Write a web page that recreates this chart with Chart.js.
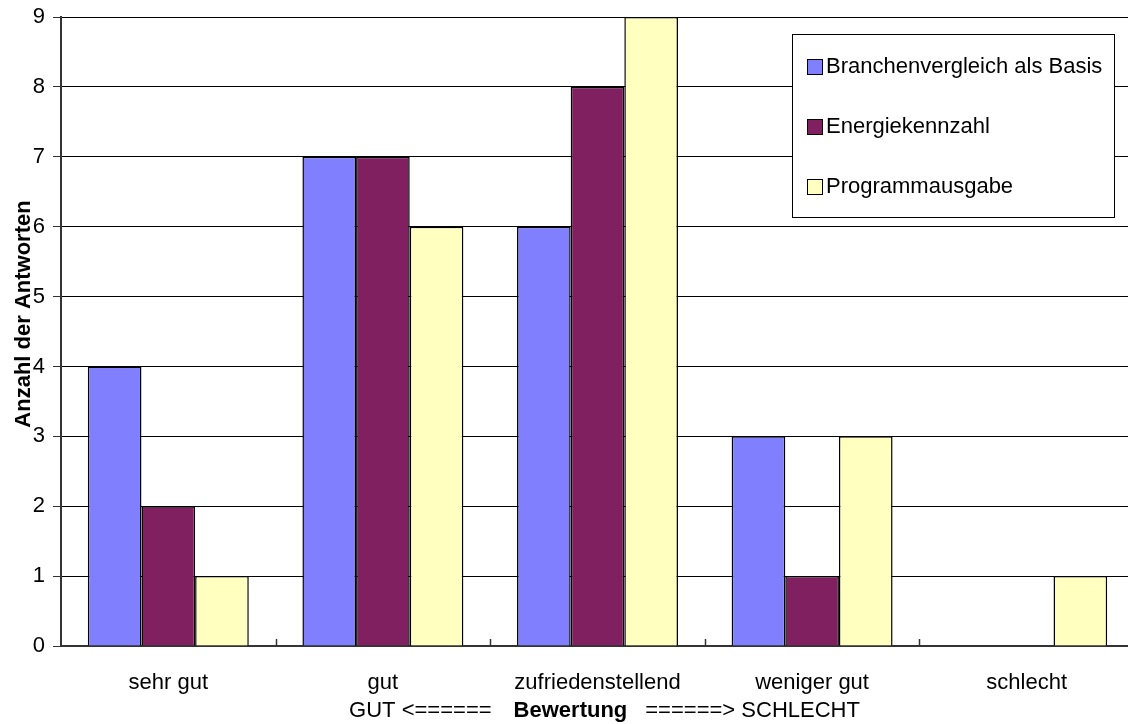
<!DOCTYPE html>
<html>
<head>
<meta charset="utf-8">
<script src="https://cdn.jsdelivr.net/npm/chart.js@4/dist/chart.umd.min.js"></script>
<style>
  html, body { margin: 0; padding: 0; background: #fff; overflow: hidden; width: 1128px; height: 724px; }
  canvas { display: block; }
</style>
</head>
<body>
<canvas id="bewertung" width="1134" height="724"></canvas>
<script>
const categories = ['sehr gut', 'gut', 'zufriedenstellend', 'weniger gut', 'schlecht'];
const seriesNames = ['Branchenvergleich als Basis', 'Energiekennzahl', 'Programmausgabe'];
const branchenvergleich = [4, 7, 6, 3, 0];
const energiekennzahl = [2, 7, 8, 1, 0];
const programmausgabe = [1, 6, 9, 3, 1];
const yMin = 0, yMax = 9, yStep = 1;
const yTitle = 'Anzahl der Antworten';
const axisTitleParts = ['GUT <======', 'Bewertung', '======> SCHLECHT'];

const colors = ['#8080ff', '#802060', '#ffffc0'];
const FONT = 'Arial, "Liberation Sans", sans-serif';

// short inward tick marks between categories on the x axis
const categoryTicks = {
  id: 'categoryTicks',
  afterDatasetsDraw(chart) {
    const x = chart.scales.x, ctx = chart.ctx;
    const bottom = chart.chartArea.bottom;
    const half = (x.getPixelForValue(1) - x.getPixelForValue(0)) / 2;
    ctx.save();
    ctx.strokeStyle = '#333';
    ctx.lineWidth = 1.5;
    for (let i = 1; i < categories.length; i++) {
      const px = Math.round(x.getPixelForValue(i) - half) + 0.5;
      ctx.beginPath();
      ctx.moveTo(px, bottom);
      ctx.lineTo(px, bottom - 7);
      ctx.stroke();
    }
    ctx.restore();
  }
};

// boxed legend in the upper right of the plot
const boxLegend = {
  id: 'boxLegend',
  afterDraw(chart) {
    const ctx = chart.ctx;
    const bx = 792, by = 34, bw = 322, bh = 183;
    ctx.save();
    ctx.fillStyle = '#fff';
    ctx.fillRect(bx, by, bw, bh);
    ctx.strokeStyle = '#000';
    ctx.lineWidth = 1;
    ctx.strokeRect(bx + 0.5, by + 0.5, bw, bh);
    ctx.font = '22px ' + FONT;
    ctx.textBaseline = 'middle';
    chart.data.datasets.forEach((ds, i) => {
      const cy = 66 + i * 60;
      ctx.fillStyle = ds.backgroundColor;
      ctx.fillRect(807, cy - 7, 15, 15);
      ctx.strokeStyle = '#000';
      ctx.strokeRect(807.5, cy - 6.5, 15, 15);
      ctx.fillStyle = '#000';
      ctx.fillText(ds.label, 826, cy + 1);
    });
    ctx.restore();
  }
};

// axis titles: rotated y title and the x title with its bold middle word
const axisTitles = {
  id: 'axisTitles',
  afterDraw(chart) {
    const ctx = chart.ctx;
    const area = chart.chartArea;
    ctx.save();
    ctx.fillStyle = '#000';
    ctx.textBaseline = 'middle';

    ctx.save();
    ctx.translate(24, 314);
    ctx.rotate(-Math.PI / 2);
    ctx.textAlign = 'center';
    ctx.font = 'bold 22px ' + FONT;
    ctx.fillText(yTitle, 0, 0);
    ctx.restore();

    const gaps = [22, 18];
    const fonts = ['22px ' + FONT, 'bold 22px ' + FONT, '22px ' + FONT];
    const widths = axisTitleParts.map((t, i) => { ctx.font = fonts[i]; return ctx.measureText(t).width; });
    const total = widths.reduce((a, b) => a + b, 0) + gaps[0] + gaps[1];
    let x = (area.left + area.right) / 2 + 7 - total / 2;
    axisTitleParts.forEach((t, i) => {
      ctx.font = fonts[i];
      ctx.fillText(t, x, 711);
      x += widths[i] + (gaps[i] || 0);
    });
    ctx.restore();
  }
};

new Chart(document.getElementById('bewertung').getContext('2d'), {
  type: 'bar',
  data: {
    labels: categories,
    datasets: [
      { label: seriesNames[0], data: branchenvergleich, backgroundColor: colors[0] },
      { label: seriesNames[1], data: energiekennzahl, backgroundColor: colors[1] },
      { label: seriesNames[2], data: programmausgabe, backgroundColor: colors[2] }
    ].map(ds => Object.assign(ds, {
      borderColor: '#000',
      borderWidth: 1.5,
      borderSkipped: 'bottom',
      categoryPercentage: 0.75,
      barPercentage: 1
    }))
  },
  options: {
    responsive: false,
    animation: false,
    devicePixelRatio: 1,
    layout: { padding: { top: 17, right: 0, bottom: 0, left: 0 } },
    plugins: {
      legend: { display: false },
      tooltip: { enabled: false }
    },
    scales: {
      x: {
        grid: { display: false },
        border: { color: '#333', width: 2 },
        ticks: { color: '#000', font: { family: FONT, size: 22 }, padding: 16, maxRotation: 0 },
        afterFit(scale) { scale.height = 78; }
      },
      y: {
        min: yMin,
        max: yMax,
        ticks: { stepSize: yStep, color: '#000', font: { family: FONT, size: 22 }, padding: 8 },
        grid: { color: '#000', lineWidth: 1, tickLength: 8, tickColor: '#333' },
        border: { color: '#333', width: 2 },
        afterFit(scale) {
          scale.width = 61;
          scale.paddingTop = 0;
          scale.paddingBottom = 0;
        }
      }
    }
  },
  plugins: [categoryTicks, boxLegend, axisTitles]
});
</script>
</body>
</html>
